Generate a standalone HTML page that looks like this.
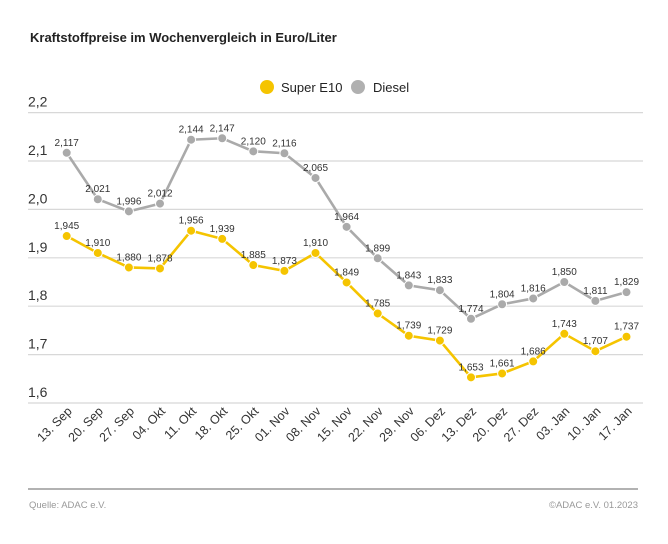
<!DOCTYPE html>
<html><head><meta charset="utf-8"><style>
body{margin:0;background:#fff;}
svg{display:block;font-family:"Liberation Sans",sans-serif;}
</style></head><body>
<svg width="668" height="544" viewBox="0 0 668 544">
<text x="30" y="42" font-size="13" font-weight="bold" fill="#222">Kraftstoffpreise im Wochenvergleich in Euro/Liter</text>
<circle cx="267" cy="87" r="7" fill="#f5c400"/><text x="281" y="92" font-size="13" fill="#222">Super E10</text>
<circle cx="358" cy="87" r="7" fill="#b0b0b0"/><text x="373" y="92" font-size="13" fill="#222">Diesel</text>
<g id="grid" stroke="#d8d8d8" stroke-width="1.2"></g>
<g id="yl" font-size="14" fill="#333"></g>
<g id="xl" font-size="12.5" fill="#333"></g>
<g id="s"></g>
<line x1="28" y1="489" x2="638" y2="489" stroke="#999" stroke-width="1.5"/>
<text x="29" y="508" font-size="9.5" fill="#999">Quelle: ADAC e.V.</text>
<text x="638" y="508" font-size="9.5" fill="#999" text-anchor="end">©ADAC e.V.  01.2023</text>
</svg>
<script>
const ns="http://www.w3.org/2000/svg";
function el(p,t,a,txt){const e=document.createElementNS(ns,t);for(const k in a)e.setAttribute(k,a[k]);if(txt!==undefined)e.textContent=txt;p.appendChild(e);return e;}
const Y=v=>403-(v-1.6)*484, X=i=>66.7+i*31.1;
const g=document.getElementById('grid'),yl=document.getElementById('yl'),xl=document.getElementById('xl'),s=document.getElementById('s');
for(let i=0;i<=6;i++){const v=1.6+i*0.1,y=Y(v);el(g,'line',{x1:28,x2:643,y1:y,y2:y});el(yl,'text',{x:28,y:y-6},v.toFixed(1).replace('.',','));}
const lab=["13. Sep","20. Sep","27. Sep","04. Okt","11. Okt","18. Okt","25. Okt","01. Nov","08. Nov","15. Nov","22. Nov","29. Nov","06. Dez","13. Dez","20. Dez","27. Dez","03. Jan","10. Jan","17. Jan"];
lab.forEach((l,i)=>el(xl,'text',{x:X(i)+6,y:412,'text-anchor':'end',transform:`rotate(-45 ${X(i)+6} 412)`},l));
const e10=[1.945,1.910,1.880,1.878,1.956,1.939,1.885,1.873,1.910,1.849,1.785,1.739,1.729,1.653,1.661,1.686,1.743,1.707,1.737];
const die=[2.117,2.021,1.996,2.012,2.144,2.147,2.120,2.116,2.065,1.964,1.899,1.843,1.833,1.774,1.804,1.816,1.850,1.811,1.829];
[[die,"#aaaaaa"],[e10,"#f5c400"]].forEach(([d,c])=>{
el(s,'polyline',{points:d.map((v,i)=>X(i)+","+Y(v)).join(" "),fill:"none",stroke:c,'stroke-width':2.6});
d.forEach((v,i)=>{el(s,'circle',{cx:X(i),cy:Y(v),r:4.5,fill:c,stroke:"#fff",'stroke-width':1});
el(s,'text',{x:X(i),y:Y(v)-7,'font-size':10,fill:"#333",'text-anchor':'middle'},v.toFixed(3).replace('.',','));});
});
</script>
</body></html>
